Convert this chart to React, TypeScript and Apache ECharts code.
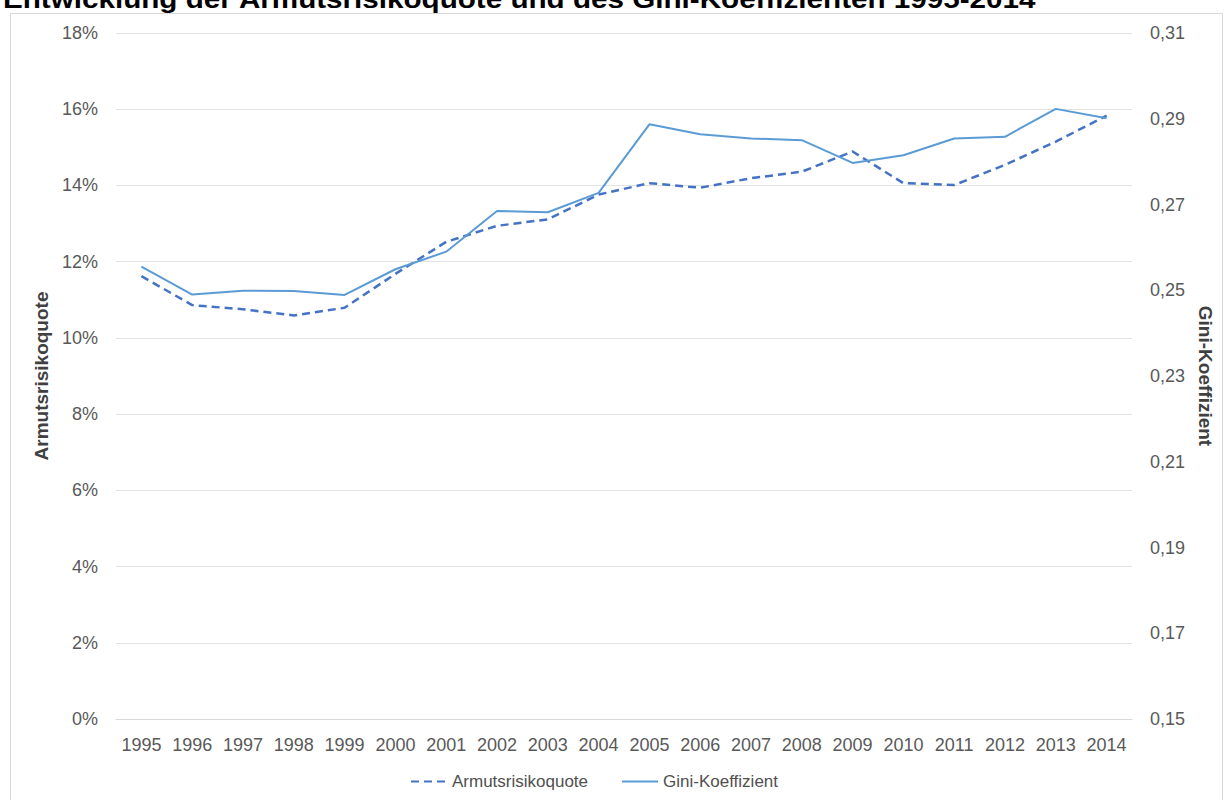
import React, { useEffect, useRef } from "react";
import * as echarts from "echarts";

const years = ["1995","1996","1997","1998","1999","2000","2001","2002","2003","2004","2005","2006","2007","2008","2009","2010","2011","2012","2013","2014"];
const armutsrisikoquote = [11.62, 10.86, 10.75, 10.59, 10.79, 11.68, 12.52, 12.94, 13.11, 13.76, 14.06, 13.94, 14.19, 14.36, 14.89, 14.06, 14.01, 14.54, 15.15, 15.83];
const gini = [0.2555, 0.249, 0.2499, 0.2498, 0.2489, 0.2549, 0.259, 0.2685, 0.2682, 0.2727, 0.2887, 0.2864, 0.2854, 0.285, 0.2797, 0.2815, 0.2854, 0.2858, 0.2923, 0.2901];
const leftTicks = { min: 0, max: 18, interval: 2 };
const rightTicks = { min: 0.15, max: 0.31, interval: 0.02 };
const title = "Entwicklung der Armutsrisikoquote und des Gini-Koeffizienten 1995-2014";

const FONT = '"Liberation Sans", Arial, sans-serif';
const LABEL = "#595959";

export default function App() {
  const ref = useRef<HTMLDivElement>(null);
  useEffect(() => {
    if (!ref.current) return;
    const chart = echarts.init(ref.current, null, { renderer: "svg" });
    chart.setOption({
      animation: false,
      backgroundColor: "#ffffff",
      textStyle: { fontFamily: FONT },
      graphic: [
        {
          type: "rect",
          shape: { x: 10.5, y: 13.5, width: 1212, height: 800 },
          style: { fill: "none", stroke: "#d9d9d9", lineWidth: 1 },
          silent: true,
        },
        {
          type: "text",
          x: 3,
          y: -1,
          scaleX: 1.14,
          style: {
            text: title,
            font: `bold 26px ${FONT}`,
            fill: "#000000",
            verticalAlign: "middle",
            align: "left",
          },
        },
      ],
      grid: { left: 116, right: 93, top: 33, bottom: 81, containLabel: false },
      legend: {
        left: 405,
        top: 768,
        itemWidth: 36,
        itemHeight: 12,
        itemGap: 33,
        itemStyle: { opacity: 0 },
        textStyle: { color: "#505050", fontSize: 17, fontFamily: FONT },
        data: ["Armutsrisikoquote", "Gini-Koeffizient"],
      },
      xAxis: {
        type: "category",
        data: years,
        boundaryGap: true,
        axisLine: { show: true, lineStyle: { color: "#d9d9d9" } },
        axisTick: { show: false },
        axisLabel: { color: LABEL, fontSize: 18, margin: 17, interval: 0, fontFamily: FONT },
      },
      yAxis: [
        {
          type: "value",
          min: leftTicks.min,
          max: leftTicks.max,
          interval: leftTicks.interval,
          name: "Armutsrisikoquote",
          nameLocation: "middle",
          nameGap: 64,
          nameRotate: 90,
          nameTextStyle: { color: "#404040", fontSize: 19, fontWeight: "bold", fontFamily: FONT },
          axisLine: { show: false },
          axisTick: { show: false },
          axisLabel: { color: LABEL, fontSize: 18, margin: 18, formatter: (v: number) => `${Math.round(v)}%`, fontFamily: FONT },
          splitLine: { show: true, lineStyle: { color: "#e3e3e3", width: 1 } },
        },
        {
          type: "value",
          position: "right",
          min: rightTicks.min,
          max: rightTicks.max,
          interval: rightTicks.interval,
          name: "Gini-Koeffizient",
          nameLocation: "middle",
          nameGap: 60,
          nameRotate: -90,
          nameTextStyle: { color: "#404040", fontSize: 19, fontWeight: "bold", fontFamily: FONT },
          axisLine: { show: false },
          axisTick: { show: false },
          axisLabel: { color: LABEL, fontSize: 18, margin: 18, formatter: (v: number) => v.toFixed(2).replace(".", ","), fontFamily: FONT },
          splitLine: { show: false },
        },
      ],
      series: [
        {
          name: "Armutsrisikoquote",
          type: "line",
          yAxisIndex: 0,
          data: armutsrisikoquote,
          symbol: "none",
          lineStyle: { color: "#4472C4", width: 2.5, type: [8, 5] },
          itemStyle: { color: "#4472C4" },
        },
        {
          name: "Gini-Koeffizient",
          type: "line",
          yAxisIndex: 1,
          data: gini,
          symbol: "none",
          lineStyle: { color: "#5B9BD5", width: 2 },
          itemStyle: { color: "#5B9BD5" },
        },
      ],
    });
    return () => chart.dispose();
  }, []);
  return <div ref={ref} style={{ position: "fixed", left: 0, top: 0, width: 1225, height: 800 }} />;
}
